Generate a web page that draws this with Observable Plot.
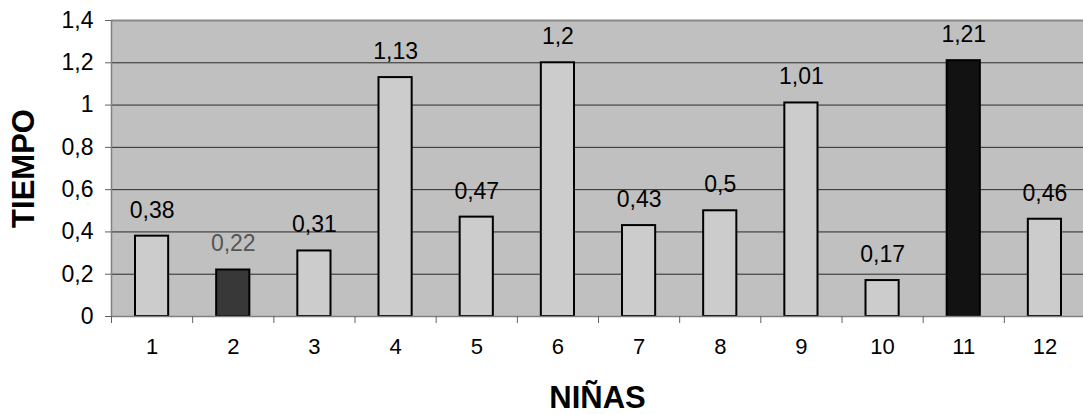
<!DOCTYPE html>
<html>
<head>
<meta charset="utf-8">
<script src="https://cdn.jsdelivr.net/npm/d3@7"></script>
<script src="https://cdn.jsdelivr.net/npm/@observablehq/plot@0.6"></script>
<style>
  html, body { margin: 0; padding: 0; background: #ffffff; }
  #chart svg { display: block; }
</style>
</head>
<body>
<div id="chart"></div>
<script>
// Data
const ninas = [1, 2, 3, 4, 5, 6, 7, 8, 9, 10, 11, 12];
const tiempo = [0.38, 0.22, 0.31, 1.13, 0.47, 1.2, 0.43, 0.5, 1.01, 0.17, 1.21, 0.46];
const yTicks = [0, 0.2, 0.4, 0.6, 0.8, 1, 1.2, 1.4];
const xTitle = "NIÑAS";
const yTitle = "TIEMPO";

// Styles (kept apart from data)
const barFill = {2: "#383838", 11: "#121212"};
const labelColor = {2: "#555555"};
const fmt = v => String(v).replace(".", ",");

const data = ninas.map((n, i) => ({n, v: tiempo[i]}));

const chart = Plot.plot({
  width: 1083,
  height: 414,
  marginTop: 20,
  marginLeft: 111,
  marginRight: 0,
  marginBottom: 98,
  style: {fontFamily: "'Liberation Sans', Arial, sans-serif", fontSize: "23px", color: "#000", background: "#fff"},
  x: {type: "linear", domain: [0.5, 12.5], range: [111, 1085]},
  y: {domain: [0, 1.4]},
  marks: [
    Plot.frame({fill: "#c0c0c0", stroke: "none"}),
    Plot.ruleY(yTicks.filter(t => t > 0 && t < 1.4), {stroke: "#2a2a2a", strokeWidth: 1}),
    Plot.ruleY([1.4], {stroke: "#8a8a8a", strokeWidth: 2}),
    Plot.rectY(data, {
      x1: d => d.n - 0.5, x2: d => d.n + 0.5, y1: 0, y2: "v",
      insetLeft: 24, insetRight: 24,
      fill: d => barFill[d.n] || "#cccccc",
      stroke: "#000", strokeWidth: 2
    }),
    Plot.ruleY([0], {stroke: "#808080", strokeWidth: 1.5}),
    Plot.ruleX([0.5], {stroke: "#808080", strokeWidth: 1.5}),
    Plot.text(data, {
      x: "n", y: "v", text: d => fmt(d.v), dy: -26, lineAnchor: "middle",
      fill: d => labelColor[d.n] || "#000", fontSize: 23
    }),
    Plot.axisY({ticks: yTicks, tickFormat: fmt, tickSize: 6, tickPadding: 12, stroke: "#606060", label: null, fontSize: 23}),
    Plot.axisX({ticks: d3.range(0.5, 13, 1), tickFormat: () => "", tickSize: 7, stroke: "#606060", label: null}),
    Plot.axisX({ticks: ninas, tickFormat: d => String(d), tickSize: 0, tickPadding: 22, label: null, fontSize: 22}),
    Plot.text([xTitle], {frameAnchor: "bottom", dy: 82, lineAnchor: "middle", textAnchor: "middle", fontSize: 31, fontWeight: "bold", fill: "#000"}),
    Plot.text([yTitle], {frameAnchor: "left", dx: -87, rotate: -90, lineAnchor: "middle", textAnchor: "middle", fontSize: 31, fontWeight: "bold", fill: "#000"})
  ]
});
document.getElementById("chart").appendChild(chart);
</script>
</body>
</html>
